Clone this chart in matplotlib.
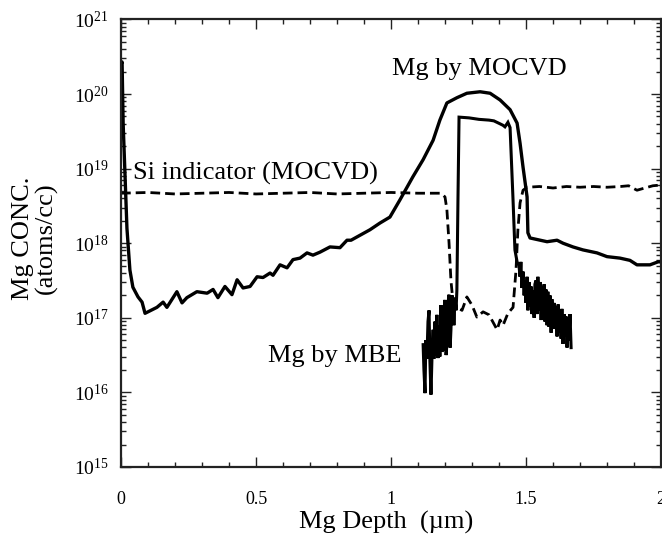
import numpy as np
import matplotlib
matplotlib.use("Agg")
import matplotlib.pyplot as plt
from matplotlib.ticker import FixedLocator, FuncFormatter, MultipleLocator, NullFormatter

plt.rcParams['font.family'] = ['Liberation Serif', 'DejaVu Serif']
plt.rcParams['mathtext.fontset'] = 'custom'
plt.rcParams['mathtext.rm'] = 'Liberation Serif'
plt.rcParams['mathtext.it'] = 'Liberation Serif:italic'

# ---- data (depth in um, log10 of concentration in atoms/cc) ----
mocvd_x = [0.0, 0.004, 0.008, 0.022, 0.033, 0.044, 0.063, 0.078, 0.089, 0.133, 0.156,
           0.170, 0.207, 0.226, 0.244, 0.281, 0.319, 0.341, 0.359, 0.385, 0.411, 0.430,
           0.452, 0.478, 0.504, 0.526, 0.552, 0.563, 0.589, 0.615, 0.637, 0.663, 0.689,
           0.711, 0.737, 0.774, 0.811, 0.837, 0.852, 0.922, 0.959, 0.996, 1.033, 1.081,
           1.119, 1.156, 1.181, 1.207, 1.244, 1.281, 1.330, 1.367, 1.404, 1.441, 1.467,
           1.478, 1.489, 1.504, 1.507, 1.515, 1.578, 1.615, 1.637, 1.674, 1.711, 1.763,
           1.800, 1.848, 1.885, 1.911, 1.959, 1.989, 2.0]
mocvd_log = [20.40, 20.43, 19.60, 18.20, 17.64, 17.41, 17.28, 17.21, 17.06, 17.14, 17.21,
             17.14, 17.35, 17.20, 17.27, 17.35, 17.33, 17.38, 17.27, 17.42, 17.31, 17.51,
             17.40, 17.42, 17.55, 17.54, 17.60, 17.57, 17.71, 17.67, 17.78, 17.80, 17.87,
             17.84, 17.88, 17.95, 17.94, 18.04, 18.04, 18.18, 18.27, 18.35, 18.58, 18.89,
             19.12, 19.38, 19.65, 19.88, 19.95, 20.01, 20.03, 20.01, 19.92, 19.79, 19.61,
             19.34, 19.02, 18.62, 18.14, 18.07, 18.02, 18.04, 18.00, 17.95, 17.91, 17.87,
             17.82, 17.80, 17.77, 17.71, 17.71, 17.75, 17.75]

mbe_x = [1.119, 1.122, 1.126, 1.129, 1.133, 1.137, 1.141, 1.144, 1.148, 1.152, 1.156,
         1.159, 1.163, 1.167, 1.170, 1.174, 1.178, 1.181, 1.185, 1.189, 1.193, 1.196,
         1.200, 1.204, 1.207, 1.211, 1.215, 1.219, 1.222, 1.226, 1.230, 1.233, 1.237,
         1.241, 1.244, 1.248, 1.252, 1.289, 1.326, 1.363, 1.381, 1.404, 1.415, 1.422,
         1.433, 1.441, 1.452, 1.459, 1.467, 1.474, 1.478, 1.481, 1.485, 1.489, 1.493,
         1.496, 1.500, 1.504, 1.507, 1.511, 1.515, 1.519, 1.522, 1.526, 1.530, 1.533,
         1.537, 1.541, 1.544, 1.548, 1.552, 1.556, 1.559, 1.563, 1.567, 1.570, 1.574,
         1.578, 1.581, 1.585, 1.589, 1.593, 1.596, 1.600, 1.604, 1.607, 1.611, 1.615,
         1.619, 1.622, 1.626, 1.630, 1.633, 1.637, 1.641, 1.644, 1.648, 1.652, 1.656,
         1.659, 1.663, 1.667]
mbe_log = [16.64, 16.30, 15.99, 16.70, 16.45, 16.95, 17.10, 16.43, 15.97, 16.50, 16.84,
           16.45, 16.95, 16.50, 17.04, 16.46, 16.90, 16.48, 17.17, 16.55, 16.57, 17.10,
           17.24, 16.50, 16.64, 17.20, 17.31, 16.60, 16.84, 17.30, 17.24, 16.90, 17.27,
           17.10, 17.37, 18.58, 19.69, 19.68, 19.66, 19.65, 19.64, 19.60, 19.58, 19.56,
           19.62, 19.55, 18.58, 17.91, 17.75, 17.70, 17.55, 17.75, 17.40, 17.62, 17.30,
           17.50, 17.20, 17.55, 17.10, 17.48, 17.15, 17.42, 17.05, 17.37, 17.00, 17.45,
           17.50, 17.05, 17.55, 17.10, 17.48, 16.97, 17.42, 17.02, 17.45, 16.95, 17.38,
           16.90, 17.35, 16.88, 17.30, 16.80, 17.25, 16.95, 17.20, 16.85, 17.15, 16.75,
           17.18, 16.80, 17.10, 16.72, 17.12, 16.65, 17.05, 16.75, 17.02, 16.60, 17.00,
           16.70, 17.05, 16.60]

si_x = [0.0, 0.10, 0.20, 0.30, 0.40, 0.50, 0.60, 0.70, 0.80, 0.90, 1.00, 1.10, 1.185,
        1.200, 1.207, 1.215, 1.222, 1.230, 1.244, 1.263, 1.281, 1.300, 1.318, 1.341,
        1.363, 1.393, 1.404, 1.415, 1.433, 1.452, 1.463, 1.470, 1.478, 1.489, 1.504,
        1.55, 1.60, 1.65, 1.70, 1.75, 1.80, 1.85, 1.88, 1.911, 1.94, 1.97, 2.0]
si_log = [18.67, 18.68, 18.66, 18.67, 18.68, 18.66, 18.67, 18.68, 18.66, 18.67, 18.68,
          18.67, 18.67, 18.62, 18.45, 18.00, 17.50, 17.20, 17.14, 17.10, 17.28, 17.17,
          17.01, 17.08, 17.04, 16.84, 16.97, 16.90, 17.06, 17.14, 17.64, 18.18, 18.54,
          18.71, 18.75, 18.76, 18.74, 18.76, 18.75, 18.76, 18.75, 18.76, 18.77, 18.71,
          18.74, 18.77, 18.78]

xticks = [0, 0.5, 1, 1.5, 2]
xtick_labels = ["0", "0.5", "1", "1.5", "2"]
ytick_exps = [15, 16, 17, 18, 19, 20, 21]

W, H = 662, 549
fig = plt.figure(figsize=(W / 100, H / 100), dpi=100)
ax = fig.add_axes([121 / W, (H - 467) / H, 540 / W, (467 - 19.4) / H])

ax.plot(mocvd_x, 10 ** np.array(mocvd_log), color='black', lw=2.4,
        solid_joinstyle='round')
ax.plot(mbe_x, 10 ** np.array(mbe_log), color='black', lw=2.2,
        solid_joinstyle='miter')
ax.plot(si_x, 10 ** np.array(si_log), color='black', lw=2.0,
        dashes=(3.5, 1.8))

ax.set_yscale('log')
ax.set_xlim(0, 2)
ax.set_ylim(1e15, 1e21)

ax.xaxis.set_major_locator(FixedLocator(xticks))
ax.set_xticklabels(xtick_labels)
ax.xaxis.set_minor_locator(MultipleLocator(0.1))
major_y = [10.0 ** e for e in ytick_exps]
minor_y = [m * 10.0 ** e for e in ytick_exps[:-1] for m in range(2, 10)]
ax.yaxis.set_major_locator(FixedLocator(major_y))
ax.yaxis.set_minor_locator(FixedLocator(minor_y))
ax.yaxis.set_major_formatter(FuncFormatter(lambda v, p: r'$\mathregular{10^{%d}}$' % round(np.log10(v))))
ax.yaxis.set_minor_formatter(NullFormatter())

ax.tick_params(which='both', direction='in', top=True, right=True, width=1.0, color='#222222')
ax.tick_params(which='major', length=7)
ax.tick_params(which='minor', length=3.5)
ax.tick_params(axis='x', which='major', labelsize=13, pad=17)
ax.tick_params(axis='y', which='major', labelsize=14, pad=9)
for s in ax.spines.values():
    s.set_linewidth(1.6)
    s.set_color('#222222')

ax.text(1.004, 10 ** 20.255, "Mg by MOCVD", fontsize=19, ha='left', va='baseline')
ax.text(0.044, 10 ** 18.85, "Si indicator (MOCVD)", fontsize=19, ha='left', va='baseline')
ax.text(0.544, 10 ** 16.41, "Mg by MBE", fontsize=19, ha='left', va='baseline')

fig.text(23 / W, (H - 238) / H, "Mg CONC.", rotation=90, fontsize=19, ha='center', va='center')
fig.text(46 / W, (H - 238) / H, "(atoms/cc)", rotation=90, fontsize=19, ha='center', va='center')
fig.text(386 / W, (H - 522) / H, "Mg Depth  (\u00b5m)", fontsize=19, ha='center', va='center')

fig.savefig("out.png", dpi=100)
